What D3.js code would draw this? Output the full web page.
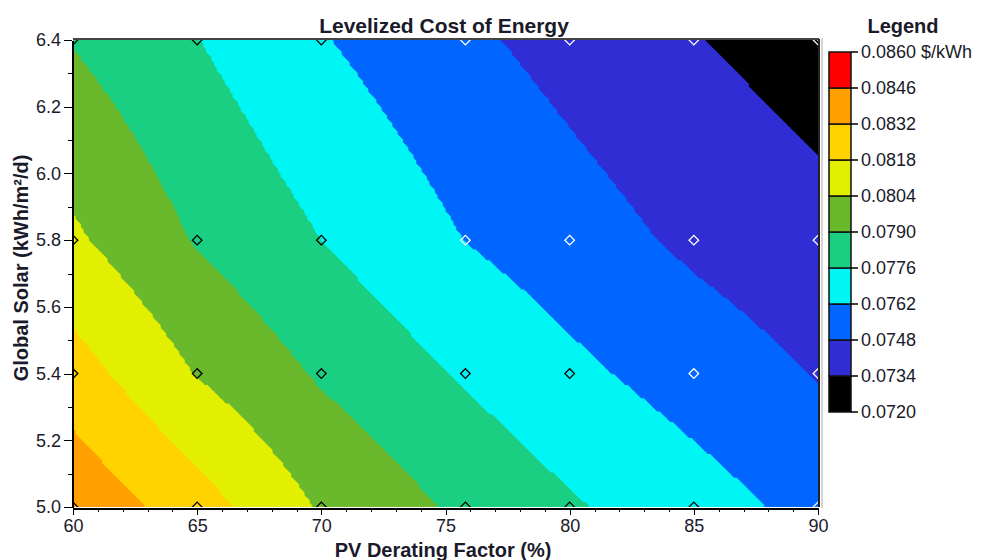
<!DOCTYPE html>
<meta charset="utf-8">
<style>
    body { margin: 0; background: #fff; }
    svg text { font-family: "Liberation Sans", Arial, sans-serif; fill: #1a1a2a; }
    .axis path, .axis line { stroke: #000; shape-rendering: crispEdges; }
    .axis text { font-size: 18px; }
    .title { font-size: 20px; font-weight: bold; }
</style>
<svg id="chart" width="981" height="560"></svg>
<script src="https://cdnjs.cloudflare.com/ajax/libs/d3/7.8.5/d3.min.js"></script>
<script>

// sample grid of the sensitivity run
var derating = [60, 65, 70, 75.8, 80, 85, 90];
var solar = [5.0, 5.4, 5.8, 6.4];

// levelized cost ($/kWh) at each derating value, one list per solar level
var lcoeSolar50 = [0.0843, 0.08242, 0.08026, 0.07871, 0.07776, 0.0768, 0.07576];
var lcoeSolar54 = [0.0824, 0.08033, 0.07883, 0.07744, 0.07652, 0.07559, 0.07473];
var lcoeSolar58 = [0.08063, 0.07889, 0.0776, 0.07618, 0.07543, 0.07454, 0.07386];
var lcoeSolar64 = [0.07893, 0.07763, 0.07629, 0.07506, 0.07431, 0.07347, 0.07276];

var legendTicks = [0.0720, 0.0734, 0.0748, 0.0762, 0.0776, 0.0790, 0.0804, 0.0818, 0.0832, 0.0846, 0.0860];
var bandColors = ["#000000", "#2f2dd3", "#0066ff", "#00f5f5", "#1bcf82",
                  "#6ab82c", "#e2ef00", "#ffd200", "#ffa000", "#ff0000"];

var xTicks = [60, 65, 70, 75, 80, 85, 90];
var yTicks = [5.0, 5.2, 5.4, 5.6, 5.8, 6.0, 6.2, 6.4];

var lcoe = [lcoeSolar50, lcoeSolar54, lcoeSolar58, lcoeSolar64];

var svg = d3.select("#chart");
var plot = {left: 73, right: 818, top: 40, bottom: 507};

var x = d3.scaleLinear().domain([60, 90]).range([plot.left, plot.right]);
var y = d3.scaleLinear().domain([5.0, 6.4]).range([plot.bottom, plot.top]);

var color = d3.scaleThreshold()
    .domain(legendTicks.slice(1, -1))
    .range(bandColors);

// bilinear value between the sample points
function valueAt(dx, sy) {
    var i = Math.min(Math.max(d3.bisectRight(derating, dx) - 1, 0), derating.length - 2);
    var j = Math.min(Math.max(d3.bisectRight(solar, sy) - 1, 0), solar.length - 2);
    var t = (dx - derating[i]) / (derating[i + 1] - derating[i]);
    var u = (sy - solar[j]) / (solar[j + 1] - solar[j]);
    var a = lcoe[j][i], b = lcoe[j][i + 1], c = lcoe[j + 1][i], d = lcoe[j + 1][i + 1];
    return (a * (1 - t) + b * t) * (1 - u) + (c * (1 - t) + d * t) * u;
}

var nx = 280, ny = 176;
var gx = d3.scaleLinear().domain([0, nx]).range([60, 90]);
var gy = d3.scaleLinear().domain([0, ny]).range([6.4, 5.0]);
var grid = new Array(nx * ny);
for (var j = 0; j < ny; ++j) {
    for (var i = 0; i < nx; ++i) {
        grid[j * nx + i] = valueAt(gx(i + 0.5), gy(j + 0.5));
    }
}

var contours = d3.contours()
    .size([nx, ny])
    .smooth(false)
    .thresholds(legendTicks.slice(0, -1))(grid);

var project = d3.geoPath(d3.geoTransform({
    point: function(px, py) { this.stream.point(x(gx(px)), y(gy(py))); }
}));

svg.append("defs").append("clipPath").attr("id", "plotClip")
    .append("rect")
    .attr("x", plot.left).attr("y", plot.top)
    .attr("width", plot.right - plot.left).attr("height", plot.bottom - plot.top);

var surface = svg.append("g").attr("clip-path", "url(#plotClip)");

surface.selectAll("path")
    .data(contours)
    .enter().append("path")
    .attr("d", project)
    .attr("fill", function(d) { return color(d.value + 0.0001); });

// sample markers
var points = [];
solar.forEach(function(s, j) {
    derating.forEach(function(dv, i) {
        points.push({d: dv, s: s, v: lcoe[j][i]});
    });
});

surface.selectAll(".marker")
    .data(points)
    .enter().append("path")
    .attr("class", "marker")
    .attr("d", d3.symbol(d3.symbolSquare, 46))
    .attr("transform", function(d) { return "translate(" + x(d.d) + "," + y(d.s) + ") rotate(45)"; })
    .attr("fill", "none")
    .attr("stroke", function(d) { return d.v < 0.0762 ? "#fff" : "#000"; })
    .attr("stroke-width", 1.3);

// frame
svg.append("line")
    .attr("x1", plot.left).attr("x2", plot.right + 1)
    .attr("y1", plot.top - 1).attr("y2", plot.top - 1)
    .attr("stroke", "#444").attr("stroke-width", 2);
svg.append("line")
    .attr("x1", plot.right + 1).attr("x2", plot.right + 1)
    .attr("y1", plot.top - 1).attr("y2", plot.bottom)
    .attr("stroke", "#222").attr("stroke-width", 2);
svg.append("line")
    .attr("x1", plot.right + 4).attr("x2", plot.right + 4)
    .attr("y1", plot.top - 2).attr("y2", plot.bottom + 1)
    .attr("stroke", "#aaa").attr("stroke-width", 1);

// axes
var xMinor = svg.append("g").attr("class", "axis")
    .attr("transform", "translate(0," + (plot.bottom + 1) + ")")
    .call(d3.axisBottom(x).tickValues(d3.range(60, 91, 1)).tickSize(4).tickFormat(""));
xMinor.select(".domain").remove();

var xAxis = svg.append("g").attr("class", "axis")
    .attr("transform", "translate(0," + (plot.bottom + 1) + ")")
    .call(d3.axisBottom(x).tickValues(xTicks).tickSize(7).tickSizeOuter(0).tickPadding(4));
xAxis.select(".domain").attr("stroke-width", 2);

var yMinor = svg.append("g").attr("class", "axis")
    .attr("transform", "translate(" + (plot.left - 1) + ",0)")
    .call(d3.axisLeft(y).tickValues(d3.range(50, 65, 1).map(function(v) { return v / 10; })).tickSize(4).tickFormat(""));
yMinor.select(".domain").remove();

var yAxis = svg.append("g").attr("class", "axis")
    .attr("transform", "translate(" + (plot.left - 1) + ",0)")
    .call(d3.axisLeft(y).tickValues(yTicks).tickSize(8).tickSizeOuter(0).tickPadding(3).tickFormat(d3.format(".1f")));
yAxis.select(".domain").attr("stroke-width", 2);

// titles
svg.append("text").attr("class", "title")
    .attr("x", 444).attr("y", 33).attr("text-anchor", "middle")
    .style("font-size", "21px")
    .text("Levelized Cost of Energy");

svg.append("text").attr("class", "title")
    .attr("x", 443).attr("y", 557).attr("text-anchor", "middle")
    .text("PV Derating Factor (%)");

svg.append("text").attr("class", "title")
    .attr("transform", "translate(28,268) rotate(-90)")
    .attr("text-anchor", "middle")
    .text("Global Solar (kWh/m²/d)");

// legend
var legend = {left: 829, width: 22, top: 52, bottom: 412};
var ly = d3.scaleLinear().domain([0.0720, 0.0860]).range([legend.bottom, legend.top]);

svg.append("text").attr("class", "title")
    .attr("x", 903).attr("y", 33).attr("text-anchor", "middle")
    .text("Legend");

var lg = svg.append("g");
lg.selectAll("rect")
    .data(bandColors)
    .enter().append("rect")
    .attr("x", legend.left)
    .attr("y", function(d, i) { return ly(legendTicks[i + 1]); })
    .attr("width", legend.width)
    .attr("height", function(d, i) { return ly(legendTicks[i]) - ly(legendTicks[i + 1]); })
    .attr("fill", function(d) { return d; })
    .attr("stroke", "#111")
    .attr("stroke-width", 1.5);

lg.selectAll("line")
    .data(legendTicks)
    .enter().append("line")
    .attr("x1", legend.left + legend.width).attr("x2", legend.left + legend.width + 7)
    .attr("y1", function(d) { return ly(d); }).attr("y2", function(d) { return ly(d); })
    .attr("stroke", "#000").attr("stroke-width", 1.5);

lg.selectAll("text")
    .data(legendTicks)
    .enter().append("text")
    .attr("x", legend.left + legend.width + 10)
    .attr("y", function(d) { return ly(d); })
    .attr("dy", "0.35em")
    .style("font-size", "18px")
    .text(function(d, i) { return d3.format(".4f")(d) + (i === legendTicks.length - 1 ? " $/kWh" : ""); });

</script>
